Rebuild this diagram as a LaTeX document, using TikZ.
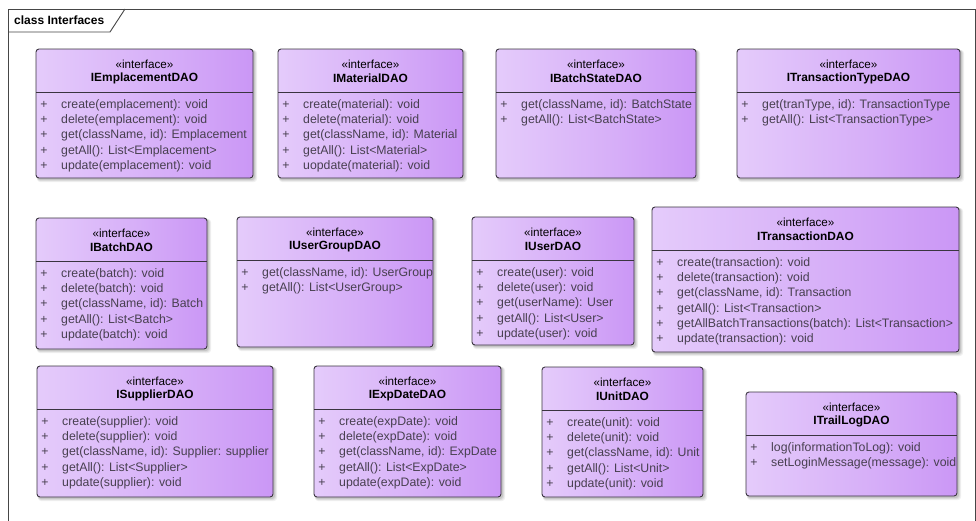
\documentclass[tikz,border=0pt]{standalone}
\usepackage{fontspec}
\setmainfont{Liberation Sans}

\definecolor{ifLeft}{RGB}{214,176,246}
\definecolor{ifLight}{RGB}{230,206,251}
\definecolor{ifMid}{RGB}{214,174,248}
\definecolor{ifRight}{RGB}{188,122,242}
\definecolor{ifBorder}{RGB}{58,52,64}
\definecolor{memText}{RGB}{72,64,80}
\definecolor{frameLine}{RGB}{70,70,70}

\pgfdeclarehorizontalshading{ifshade}{100bp}{%
  color(0bp)=(ifLeft); color(22bp)=(ifLight); color(55bp)=(ifMid); color(100bp)=(ifRight)}

\tikzset{
  ifbox/.style={rectangle, rounded corners=3pt, draw=ifBorder, line width=0.9pt,
    shading=ifshade, inner sep=0pt, outer sep=0pt, anchor=north west},
  ifshadow/.style={fill=black, rounded corners=3pt},
  sepline/.style={draw=ifBorder, line width=0.9pt},
  stereo/.style={font=\fontsize{11.7}{13}\selectfont, text=black, inner sep=0pt},
  ifname/.style={font=\fontsize{11.9}{13}\selectfont\bfseries, text=black, inner sep=0pt},
  member/.style={font=\fontsize{12.3}{14}\selectfont, text=memText, inner sep=0pt,
    anchor=west, text height=8.8pt, text depth=2.6pt},
  plussign/.style={font=\fontsize{12.3}{14}\selectfont, text=memText, inner sep=0pt,
    text height=8.8pt, text depth=2.6pt},
  frameline/.style={draw=frameLine, line width=0.9pt},
  framelabel/.style={font=\fontsize{12}{14}\selectfont\bfseries, text=black, inner sep=0pt, anchor=west}
}

% \ifacebox{id}{left}{top}{right}{bottom}{name}{members}
\newcommand{\ifacebox}[7]{%
  \fill[ifshadow, opacity=0.06] (#2+1,#3+1) rectangle (#4+4,#5+4);
  \fill[ifshadow, opacity=0.08] (#2+1,#3+1) rectangle (#4+3,#5+3);
  \fill[ifshadow, opacity=0.10] (#2+1,#3+1) rectangle (#4+2,#5+2);
  \node[ifbox, minimum width={#4-#2}, minimum height={#5-#3}] (#1) at (#2,#3) {};
  \draw[sepline] ([yshift=-43.5pt]#1.north west) -- ([yshift=-43.5pt]#1.north east);
  \node[stereo] (#1-st) at ([yshift=-15pt]#1.north) {«interface»};
  \node[ifname] (#1-nm) at ([yshift=-29.5pt]#1.north) {#6};
  \foreach \m [count=\i] in {#7} {
    \node[plussign] (#1-p\i) at ([xshift=8pt, yshift={-56pt-(\i-1)*15.3pt}]#1.north west) {+};
    \node[member] (#1-m\i) at ([xshift=25pt, yshift={-56pt-(\i-1)*15.3pt}]#1.north west) {\m};
  }
}

\begin{document}
\begin{tikzpicture}[x=1pt, y=-1pt]
  \useasboundingbox (0,0) rectangle (976,520);
  \fill[white] (0,0) rectangle (976,520);

  % diagram frame with its name tab
  \draw[frameline] (8,521) -- (8,9) -- (975,9) -- (975,521);
  \coordinate (tabA) at (8,32);
  \coordinate (tabB) at (110,32);
  \coordinate (tabC) at (125,9);
  \draw[frameline] (tabA) -- (tabB) -- (tabC);
  \node[framelabel] (frame-title) at (14,20) {class Interfaces};

  % first row
  \ifacebox{emp}{36}{49}{253}{178}{IEmplacementDAO}{%
    {create(emplacement): void},{delete(emplacement): void},
    {get(className, id): Emplacement},{getAll(): List<Emplacement>},
    {update(emplacement): void}}
  \ifacebox{mat}{278}{49}{463}{178}{IMaterialDAO}{%
    {create(material): void},{delete(material): void},
    {get(className, id): Material},{getAll(): List<Material>},
    {uopdate(material): void}}
  \ifacebox{bst}{496}{49}{696}{178}{IBatchStateDAO}{%
    {get(className, id): BatchState},{getAll(): List<BatchState>}}
  \ifacebox{ttp}{737}{49}{960}{178}{ITransactionTypeDAO}{%
    {get(tranType, id): TransactionType},{getAll(): List<TransactionType>}}

  % second row
  \ifacebox{bat}{36}{218}{207}{349}{IBatchDAO}{%
    {create(batch): void},{delete(batch): void},
    {get(className, id): Batch},{getAll(): List<Batch>},
    {update(batch): void}}
  \ifacebox{ugr}{237}{217}{433}{347}{IUserGroupDAO}{%
    {get(className, id): UserGroup},{getAll(): List<UserGroup>}}
  \ifacebox{usr}{472}{217}{634}{345}{IUserDAO}{%
    {create(user): void},{delete(user): void},
    {get(userName): User},{getAll(): List<User>},
    {update(user): void}}
  \ifacebox{trx}{652}{207}{959}{352}{ITransactionDAO}{%
    {create(transaction): void},{delete(transaction): void},
    {get(className, id): Transaction},{getAll(): List<Transaction>},
    {getAllBatchTransactions(batch): List<Transaction>},
    {update(transaction): void}}

  % third row
  \ifacebox{sup}{37}{366}{273}{497}{ISupplierDAO}{%
    {create(supplier): void},{delete(supplier): void},
    {get(className, id): Supplier: supplier},{getAll(): List<Supplier>},
    {update(supplier): void}}
  \ifacebox{exp}{314}{366}{501}{497}{IExpDateDAO}{%
    {create(expDate): void},{delete(expDate): void},
    {get(className, id): ExpDate},{getAll(): List<ExpDate>},
    {update(expDate): void}}
  \ifacebox{unt}{542}{367}{703}{497}{IUnitDAO}{%
    {create(unit): void},{delete(unit): void},
    {get(className, id): Unit},{getAll(): List<Unit>},
    {update(unit): void}}
  \ifacebox{trl}{746}{392}{957}{496}{ITrailLogDAO}{%
    {log(informationToLog): void},{setLoginMessage(message): void}}
\end{tikzpicture}
\end{document}
